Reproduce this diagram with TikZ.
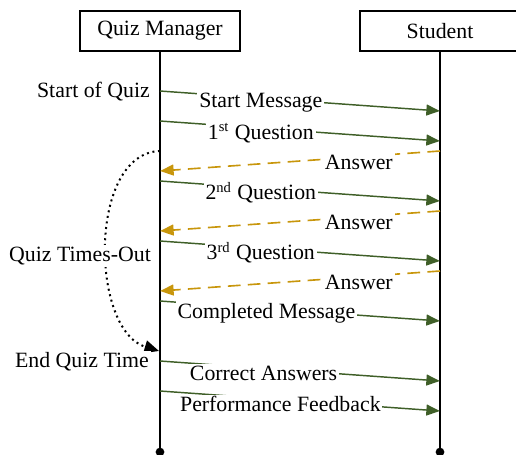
\documentclass[tikz,border=0pt]{standalone}
\usepackage{fontspec}
\setmainfont{Liberation Serif}
\usetikzlibrary{arrows.meta}
\definecolor{msggreen}{RGB}{63,95,40}
\definecolor{ansgold}{RGB}{200,150,12}
\begin{document}
\begin{tikzpicture}[x=0.55pt,y=-0.55pt,
  actor/.style={draw,line width=1.1pt,minimum width=88.5pt,minimum height=22pt,font=\fontsize{12}{14}\selectfont},
  life/.style={line width=1.6pt},
  msg/.style={msggreen,line width=0.8pt,-{Triangle[length=7.5pt,width=6pt]}},
  ans/.style={ansgold,line width=0.9pt,dash pattern=on 7pt off 4pt,-{Triangle[length=7.5pt,width=6pt]}},
  lbl/.style={fill=white,inner sep=1pt,text=black,font=\fontsize{12}{14}\selectfont},
  side/.style={fill=white,inner sep=1pt,anchor=east,font=\fontsize{12}{14}\selectfont}]
\useasboundingbox (0,0) rectangle (516,454);
% lifelines
\node[actor] (qm) at (160,31) {Quiz Manager};
\node[actor] (st) at (440,31) {Student};
\coordinate (qmEnd) at (160,452);
\coordinate (stEnd) at (440,452);
\draw[life] (qm.south) -- (qmEnd);
\draw[life] (st.south) -- (stEnd);
\fill (qmEnd) circle (2.4pt);
\fill (stEnd) circle (2.4pt);
% points on the lifelines
\coordinate (q1) at (160,91);  \coordinate (s1) at (440,111);
\coordinate (q2) at (160,121); \coordinate (s2) at (440,141);
\coordinate (s3) at (440,151); \coordinate (q3) at (160,171);
\coordinate (q4) at (160,181); \coordinate (s4) at (440,201);
\coordinate (s5) at (440,211); \coordinate (q5) at (160,231);
\coordinate (q6) at (160,241); \coordinate (s6) at (440,261);
\coordinate (s7) at (440,271); \coordinate (q7) at (160,291);
\coordinate (q8) at (160,301); \coordinate (s8) at (440,321);
\coordinate (q9) at (160,361); \coordinate (s9) at (440,381);
\coordinate (q10) at (160,391); \coordinate (s10) at (440,411);
\coordinate (tStart) at (160,151);
\coordinate (tEnd) at (159,351);
% time-out
\draw[dotted,line width=1.1pt,-{Triangle[length=8pt,width=7pt]}] (tStart) .. controls (88,153) and (90,330) .. (tEnd);
\node[side] (startq) at (152,92) {Start of Quiz};
\node[side] (timeout) at (153,256) {Quiz Times-Out};
\node[side] (endq) at (151,362) {End Quiz Time};
% messages
\draw[msg] (q1) -- node[lbl,pos=0.36,yshift=-2.5pt] {Start Message} (s1);
\draw[msg] (q2) -- node[lbl,pos=0.36,yshift=-2.5pt] {1\textsuperscript{st} Question} (s2);
\draw[ans] (s3) -- node[lbl,pos=0.29,yshift=-3pt] {Answer} (q3);
\draw[msg] (q4) -- node[lbl,pos=0.36,yshift=-2.5pt] {2\textsuperscript{nd} Question} (s4);
\draw[ans] (s5) -- node[lbl,pos=0.29,yshift=-3pt] {Answer} (q5);
\draw[msg] (q6) -- node[lbl,pos=0.36,yshift=-2.5pt] {3\textsuperscript{rd} Question} (s6);
\draw[ans] (s7) -- node[lbl,pos=0.29,yshift=-3pt] {Answer} (q7);
\draw[msg] (q8) -- node[lbl,pos=0.38,yshift=-2.5pt] {Completed Message} (s8);
\draw[msg] (q9) -- node[lbl,pos=0.37,yshift=-2.5pt] {Correct Answers} (s9);
\draw[msg] (q10) -- node[lbl,pos=0.43,yshift=-2.5pt] {Performance Feedback} (s10);
\end{tikzpicture}
\end{document}
